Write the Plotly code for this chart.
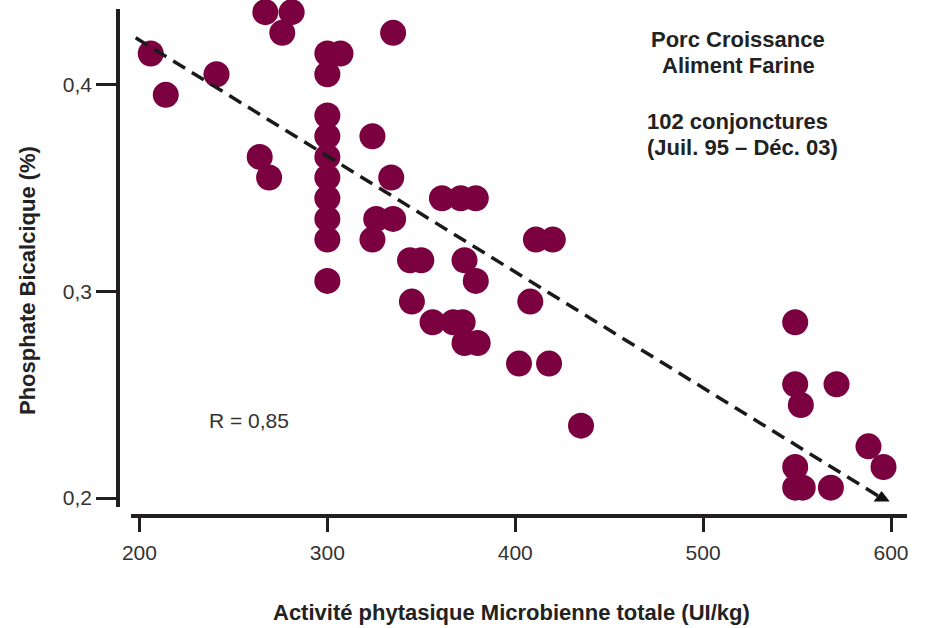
import plotly.graph_objects as go

# Data points (Activité phytasique UI/kg, Phosphate bicalcique %)
activite = [206, 214, 241, 267, 281, 276, 300, 307, 300, 335,
            300, 300, 300, 300, 300, 300, 300, 300,
            324, 264, 269, 334, 361,
            326, 335, 324, 371, 379, 344, 350, 373, 379,
            411, 420, 345, 356, 367, 372, 373, 380, 402, 418, 408, 435,
            549, 549, 571, 552, 588, 596, 549, 549, 553, 568]
phosphate = [0.415, 0.395, 0.405, 0.435, 0.435, 0.425, 0.415, 0.415, 0.405, 0.425,
             0.385, 0.375, 0.365, 0.355, 0.345, 0.335, 0.325, 0.305,
             0.375, 0.365, 0.355, 0.355, 0.345,
             0.335, 0.335, 0.325, 0.345, 0.345, 0.315, 0.315, 0.315, 0.305,
             0.325, 0.325, 0.295, 0.285, 0.285, 0.285, 0.275, 0.275, 0.265, 0.265, 0.295, 0.235,
             0.285, 0.255, 0.255, 0.245, 0.225, 0.215, 0.215, 0.205, 0.205, 0.205]

# Trend line endpoints
trend_x = [198, 595]
trend_y = [0.4226, 0.200]

x_ticks = [200, 300, 400, 500, 600]
y_ticks = [0.2, 0.3, 0.4]
y_ticktext = ["0,2", "0,3", "0,4"]

W, H = 925, 628
FONT = "Liberation Sans, Arial, Helvetica, sans-serif"
TXT = "#222222"
AX = "#231f20"

fig = go.Figure()
fig.add_trace(go.Scatter(
    x=activite, y=phosphate, mode="markers",
    marker=dict(size=26, color="#7B0040", line=dict(width=0)),
    cliponaxis=False, showlegend=False, hoverinfo="x+y"))
fig.add_trace(go.Scatter(
    x=trend_x, y=trend_y, mode="lines",
    line=dict(color="#1a1a1a", width=3.5, dash="14px,8px"),
    cliponaxis=False, showlegend=False, hoverinfo="skip"))
fig.add_trace(go.Scatter(
    x=trend_x[-1:], y=trend_y[-1:], mode="markers",
    marker=dict(symbol="triangle-up", size=14, color="#111111", line=dict(width=0)),
    cliponaxis=False, showlegend=False, hoverinfo="skip"))

fig.update_layout(
    width=W, height=H,
    margin=dict(l=0, r=0, t=0, b=0, autoexpand=False),
    paper_bgcolor="white", plot_bgcolor="white",
    font=dict(family=FONT, color=TXT, size=21),
    xaxis=dict(
        domain=[131 / W, 907 / W], range=[195.5, 608.5],
        anchor="free", position=(H - 516) / H, automargin=False,
        showline=True, linecolor=AX, linewidth=3.5,
        ticks="outside", ticklen=14, tickwidth=3, tickcolor=AX,
        ticklabelstandoff=3,
        tickvals=x_ticks, ticktext=[str(v) for v in x_ticks],
        tickfont=dict(size=21, color="#333333", family=FONT),
        showgrid=False, zeroline=False,
    ),
    yaxis=dict(
        domain=[(H - 507) / H, (H - 9) / H], range=[0.19565, 0.43653],
        anchor="free", position=118 / W, automargin=False,
        showline=True, linecolor=AX, linewidth=3.5,
        ticks="outside", ticklen=20, tickwidth=3, tickcolor=AX,
        tickvals=y_ticks, ticktext=y_ticktext,
        tickfont=dict(size=21, color="#333333", family=FONT),
        showgrid=False, zeroline=False,
    ),
)

def ann(text, x, y, size=22, bold=True, xanchor="center", angle=0, color=TXT):
    fig.add_annotation(
        text=text, x=x / W, y=1 - y / H, xref="paper", yref="paper",
        xanchor=xanchor, yanchor="middle", showarrow=False, textangle=angle,
        font=dict(family=FONT, size=size, color=color, weight="bold" if bold else "normal"))

ann("Porc Croissance", 738, 39)
ann("Aliment Farine", 738, 65)
ann("102 conjonctures", 645, 121, xanchor="left")
ann("(Juil. 95 – Déc. 03)", 645, 147, xanchor="left")
ann("R = 0,85", 207, 420, size=21, bold=False, xanchor="left", color="#333333")
ann("Activité phytasique Microbienne totale (UI/kg)", 511, 612)
ann("Phosphate Bicalcique (%)", 27, 281, angle=-90)

fig.write_html("out.html")
